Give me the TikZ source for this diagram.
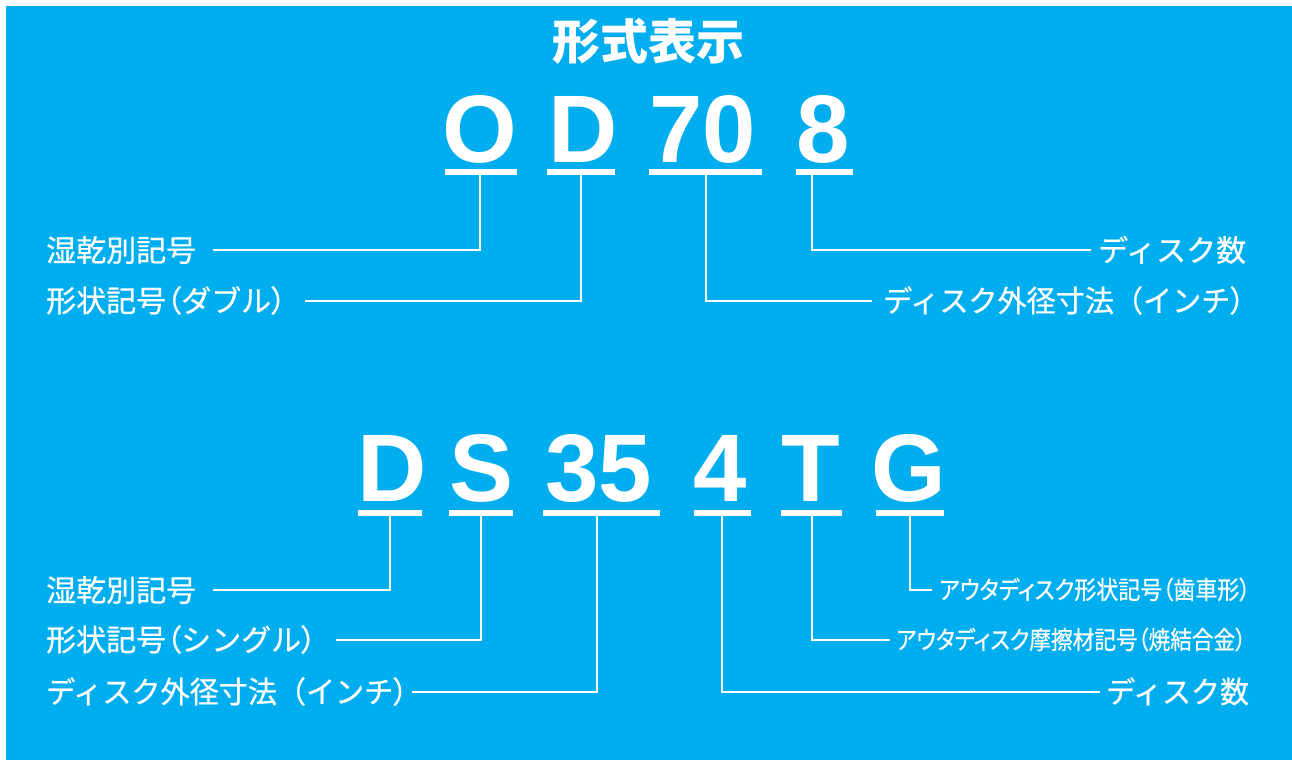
\documentclass[tikz,border=0pt]{standalone}
\usepackage{graphicx}
\usepackage{fontspec}
\newfontfamily\jpt{Noto Sans CJK JP}
\newfontfamily\jpl[FakeBold=0.6]{Noto Sans CJK JP}
\newfontfamily\jplp[FakeBold=0.6,RawFeature=+palt]{Noto Sans CJK JP}
\newfontfamily\lat{Liberation Sans}
\newcommand\popen{{\jplp （}}
\newcommand\pclose{{\jplp ）}}
\definecolor{bg}{RGB}{0,174,239}
\begin{document}
\begin{tikzpicture}[x=1pt,y=-1pt,
  bar/.style={line width=5.6pt, white},
  conn/.style={line width=2pt, white},
  big/.style={text=white, font=\lat\bfseries\fontsize{96}{96}\selectfont, inner sep=0pt, anchor=base},
  ttl/.style={text=white, font=\jpt\bfseries\fontsize{48}{48}\selectfont, inner sep=0pt},
  lab/.style={text=white, font=\jpl\fontsize{30}{30}\selectfont, inner sep=0pt, text height=26.4pt, text depth=3.6pt},
  leftlab/.style={lab, anchor=west, align=left},
  rightlab/.style={lab, anchor=west, inner xsep=#1},
  smalllab/.style={text=white, font=\jplp\fontsize{25}{25}\selectfont, inner ysep=0pt, text height=22pt, text depth=3pt, anchor=west, inner xsep=#1}
]
\useasboundingbox (0,0) rectangle (1292,760);
\fill[white] (0,0) rectangle (1292,760);
\fill[bg] (6,6) rectangle (1292,760);

% title
\node[ttl] (title) at (648,41) {形式表示};

% ---- top row: OD70 8
\node[big] (tO) at (480,162) {O};
\node[big] (tD) at (582.7,162) {D};
\node[big] (t70) at (703,162) {70};
\node[big] (t8) at (823,162) {8};
\draw[bar] (445,172) -- (516.7,172);
\draw[bar] (547,172) -- (615,172);
\draw[bar] (649,172) -- (762,172);
\draw[bar] (796,172) -- (853,172);
\coordinate (cO) at (480.3,172);
\coordinate (cD) at (581.3,172);
\coordinate (c70) at (705.7,172);
\coordinate (c8) at (811.7,172);

\node[leftlab, text width=167pt] (l1) at (46,250) {湿乾別記号};
\node[leftlab, text width=259pt] (l2) at (46,300.5) {形状記号\popen ダブル\pclose};
\node[rightlab=7pt] (r1) at (1091,250) {ディスク数};
\node[rightlab=11pt] (r2) at (872,300.5) {\scalebox{0.97}[1]{ディスク外径寸法（インチ\pclose}};

\draw[conn] (cO) |- (l1.east);
\draw[conn] (cD) |- (l2.east);
\draw[conn] (c8) |- (r1.west);
\draw[conn] (c70) |- (r2.west);

% ---- bottom row: DS35 4TG
\node[big] (bD) at (391.7,501) {D};
\node[big] (bS) at (482,501) {S};
\node[big] (b35) at (599,501) {35};
\node[big] (b4) at (720,501) {4};
\node[big] (bT) at (811,501) {T};
\node[big] (bG) at (909,501) {G};
\draw[bar] (358,513) -- (421.7,513);
\draw[bar] (449,513) -- (512.7,513);
\draw[bar] (543.3,513) -- (660,513);
\draw[bar] (694.3,513) -- (751,513);
\draw[bar] (781.3,513) -- (841.7,513);
\draw[bar] (876,513) -- (944,513);
\coordinate (cbD) at (390,513);
\coordinate (cbS) at (480.7,513);
\coordinate (cb35) at (597.3,513);
\coordinate (cb4) at (722.3,513);
\coordinate (cbT) at (811.7,513);
\coordinate (cbG) at (910,513);

\node[leftlab, text width=167pt] (l3) at (46,590) {湿乾別記号};
\node[leftlab, text width=290pt] (l4) at (46,639.5) {形状記号\popen シングル\pclose};
\node[leftlab, text width=366pt] (l5) at (46,691.5) {\scalebox{0.97}[1]{ディスク外径寸法（インチ\pclose}};
\node[smalllab=7pt] (r3) at (932,589.5) {\scalebox{0.88}[1]{アウタディスク形状記号（歯車形）}};
\node[smalllab=6pt] (r4) at (890,639.5) {\scalebox{0.867}[1]{アウタディスク摩擦材記号（焼結合金）}};
\node[rightlab=6pt] (r5) at (1100,691.5) {\scalebox{0.965}[1]{ディスク数}};

\draw[conn] (cbD) |- (l3.east);
\draw[conn] (cbS) |- (l4.east);
\draw[conn] (cb35) |- (l5.east);
\draw[conn] (cbG) |- (r3.west);
\draw[conn] (cbT) |- (r4.west);
\draw[conn] (cb4) |- (r5.west);
\end{tikzpicture}
\end{document}
